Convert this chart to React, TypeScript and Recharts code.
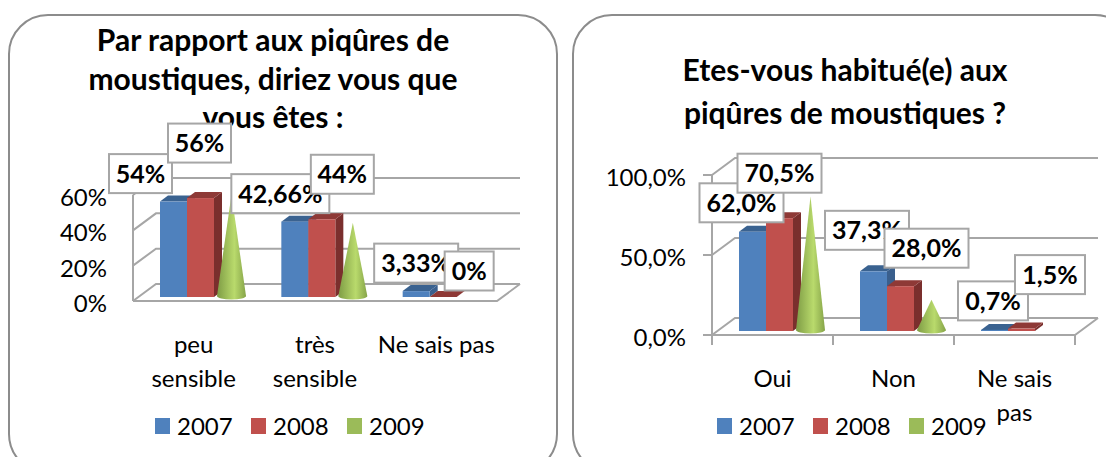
import React from "react";
import { Bar, BarChart, CartesianGrid, LabelList, Legend, XAxis, YAxis } from "recharts";

const FONT = "Lato, 'Open Sans', sans-serif";

// left chart
const sensCategories = ["peu\nsensible", "très\nsensible", "Ne sais pas"];
const sens2007 = [54, 42.66, 3.33];
const sens2008 = [56, 44, 0];
const sens2009 = [58, 42, 0];
const sensTicks = [0, 20, 40, 60];

// right chart
const habitCategories = ["Oui", "Non", "Ne sais\npas"];
const habit2007 = [62, 37.3, 0.7];
const habit2008 = [70.5, 28, 1.5];
const habit2009 = [84, 19.5, 0];
const habitTicks = [0, 50, 100];

const COLORS = {
  blue: { front: "#4F81BD", side: "#3A5F8D", top: "#3A6290" },
  red: { front: "#C0504D", side: "#7A2F2D", top: "#8E3936" },
};

// hand placed label boxes, same order as the bars
const sensOffsets2007 = [[-33, -28], [-14.5, -28], [0, -28]];
const sensOffsets2008 = [[-1, -55], [20.5, -45], [26, -26]];
const habitOffsets2007 = [[-11, -29], [-6.5, -41], [-1.5, -29]];
const habitOffsets2008 = [[0, -45], [26, -38], [28.5, -54]];

const YAXIS_W = 32;

const box3d = (tone: { front: string; side: string; top: string }) => (props: any) => {
  const { x, y, width, height } = props;
  const dx = 8;
  const dy = 6;
  return (
    <g>
      <path d={`M${x + width},${y} l${dx},${-dy} v${height} l${-dx},${dy} Z`} fill={tone.side} />
      <path d={`M${x},${y} l${dx},${-dy} h${width} l${-dx},${dy} Z`} fill={tone.top} />
      <rect x={x} y={y} width={width} height={height} fill={tone.front} />
    </g>
  );
};

const Cone = (props: any) => {
  const { x, y, width, height } = props;
  if (!height) return null;
  const left = x + 3;
  const w = width + 2;
  const cx = left + w / 2;
  const base = y + height;
  return (
    <g>
      <path
        d={`M${cx},${y} L${left + w},${base - 1} A${w / 2},3.5 0 0 1 ${left},${base - 1} Z`}
        fill="url(#coneFill)"
      />
    </g>
  );
};

const labelBox = (offsets: number[][], fmt: (v: number) => string) => (props: any) => {
  const { x, y, width, value, index } = props;
  const text = fmt(value);
  const digits = text.replace(/[^0-9]/g, "").length;
  const commas = text.includes(",") ? 1 : 0;
  const w = 35 + digits * 14 + commas * 7;
  const h = 39;
  const cx = x + width / 2 + offsets[index][0];
  const cy = y + offsets[index][1];
  return (
    <g>
      <rect x={cx - w / 2} y={cy - h / 2} width={w} height={h} fill="#fff" stroke="#A6A6A6" strokeWidth={2} />
      <text x={cx} y={cy + 9} textAnchor="middle" fontFamily={FONT} fontWeight={700} fontSize={25} fill="#000">
        {text}
      </text>
    </g>
  );
};

const frameLine = (showTicks: boolean, plotBottom: number) => (props: any) => {
  const { x1, x2, y1, key } = props;
  const fx = x1 - 7;
  const fy = y1 + 4;
  const stroke = "#A6A6A6";
  const isFloor = Math.abs(y1 - plotBottom) < 1;
  return (
    <g key={key} fill="none" stroke={stroke} strokeWidth={2}>
      <path d={`M${fx},${fy} L${x1 + 16},${y1 - 13} H${x2 + 16}`} />
      <path d={`M${fx},${fy} V${plotBottom + 4}`} />
      {showTicks && <path d={`M${fx - 9},${fy} H${fx}`} />}
      {isFloor && <path d={`M${fx},${fy} H${x2 - 7} L${x2 + 16},${y1 - 13}`} />}
    </g>
  );
};

const AxisLabel = (fmt: (v: number) => string) => (props: any) => {
  const { x, y, payload } = props;
  return (
    <text x={x - 25} y={y + 15} textAnchor="end" fontFamily={FONT} fontSize={24} fill="#000">
      {fmt(payload.value)}
    </text>
  );
};

const CategoryLabel = (showTicks: boolean, step: number) => (props: any) => {
  const { x, y, payload } = props;
  const lines = String(payload.value).split("\n");
  const cx = x - 7;
  return (
    <g>
      {showTicks && (
        <path
          d={`M${cx - step / 2},${y - 4} v10 M${cx + step / 2},${y - 4} v10`}
          stroke="#A6A6A6"
          strokeWidth={2}
          fill="none"
        />
      )}
      {lines.map((line, i) => (
        <text key={i} x={cx} y={y + 48 + i * 34} textAnchor="middle" fontFamily={FONT} fontSize={24} fill="#000">
          {line}
        </text>
      ))}
    </g>
  );
};

const LegendRow = ({ payload }: any) => (
  <div style={{ display: "flex", fontFamily: FONT, fontSize: 24, color: "#000", lineHeight: "30px" }}>
    {payload.map((item: any) => (
      <div key={item.value} style={{ display: "flex", alignItems: "center", width: 96 }}>
        <span style={{ width: 15, height: 16, background: item.color, marginRight: 7 }} />
        {item.value}
      </div>
    ))}
  </div>
);

type ChartProps = {
  left: number;
  width: number;
  panelWidth: number;
  title: string[];
  titleTop: number;
  titleLine: number;
  titleShift: number;
  categories: string[];
  y2007: number[];
  y2008: number[];
  y2009: number[];
  ticks: number[];
  tickFmt: (v: number) => string;
  labelFmt: (v: number) => string;
  off2007: number[][];
  off2008: number[][];
  margin: { top: number; right: number; left: number; bottom: number };
  showTicks: boolean;
  legendLeft: number;
  legendTop: number;
};

const Panel = (p: ChartProps) => {
  const data = p.categories.map((name, i) => ({
    name,
    y2007: p.y2007[i],
    y2008: p.y2008[i],
    y2009: p.y2009[i],
  }));
  const chartH = 444;
  const plotBottom = chartH - p.margin.bottom - 60;
  const step = (p.width - p.margin.left - p.margin.right - YAXIS_W) / 3;
  return (
    <div style={{ position: "absolute", left: p.left, top: 13, width: p.width, height: chartH }}>
      <div
        style={{
          position: "absolute",
          left: 0,
          top: 1,
          width: p.panelWidth,
          height: 460,
          boxSizing: "border-box",
          border: "2px solid #8C8C8C",
          borderRadius: 40,
        }}
      />
      <div
        style={{
          position: "absolute",
          left: p.titleShift,
          width: p.width,
          top: p.titleTop,
          textAlign: "center",
          fontFamily: FONT,
          fontWeight: 700,
          fontSize: 30,
          lineHeight: `${p.titleLine}px`,
          color: "#000",
        }}
      >
        {p.title.map((t) => (
          <div key={t}>{t}</div>
        ))}
      </div>
      <div style={{ position: "absolute", left: 0, top: 0 }}>
        <BarChart width={p.width} height={chartH} data={data} margin={p.margin} barSize={27} barGap={0}>
          <defs>
            <linearGradient id="coneFill" x1="0" y1="0" x2="1" y2="0">
              <stop offset="0%" stopColor="#7E9C45" />
              <stop offset="60%" stopColor="#B9DA6C" />
              <stop offset="100%" stopColor="#86A449" />
            </linearGradient>
          </defs>
          <CartesianGrid vertical={false} horizontal={frameLine(p.showTicks, plotBottom)} />
          <XAxis
            dataKey="name"
            height={60}
            axisLine={false}
            tickLine={false}
            interval={0}
            tick={CategoryLabel(p.showTicks, step)}
          />
          <YAxis
            width={YAXIS_W}
            domain={[p.ticks[0], p.ticks[p.ticks.length - 1]]}
            ticks={p.ticks}
            axisLine={false}
            tickLine={false}
            tick={AxisLabel(p.tickFmt)}
          />
          <Legend
            layout="horizontal"
            verticalAlign="middle"
            align="center"
            wrapperStyle={{ left: p.legendLeft, top: p.legendTop, width: 320 }}
            content={LegendRow}
          />
          <Bar dataKey="y2007" name="2007" fill={COLORS.blue.front} shape={box3d(COLORS.blue)} isAnimationActive={false}>
            <LabelList dataKey="y2007" content={labelBox(p.off2007, p.labelFmt)} />
          </Bar>
          <Bar dataKey="y2008" name="2008" fill={COLORS.red.front} shape={box3d(COLORS.red)} isAnimationActive={false}>
            <LabelList dataKey="y2008" content={labelBox(p.off2008, p.labelFmt)} />
          </Bar>
          <Bar dataKey="y2009" name="2009" fill="#9BBB59" shape={Cone} isAnimationActive={false} />
        </BarChart>
      </div>
    </div>
  );
};

const comma = (v: number) => String(v).replace(".", ",") + "%";
const comma1 = (v: number) => v.toFixed(1).replace(".", ",") + "%";

export default function App() {
  return (
    <div style={{ position: "absolute", left: 0, top: 0, width: 1106, height: 457, overflow: "hidden", background: "#fff" }}>
      <Panel
        left={8}
        width={550}
        panelWidth={550}
        title={["Par rapport aux piqûres de", "moustiques, diriez vous que", "vous êtes :"]}
        titleTop={7}
        titleLine={38.5}
        titleShift={-10}
        categories={sensCategories}
        y2007={sens2007}
        y2008={sens2008}
        y2009={sens2009}
        ticks={sensTicks}
        tickFmt={(v) => v + "%"}
        labelFmt={comma}
        off2007={sensOffsets2007}
        off2008={sensOffsets2008}
        margin={{ top: 178, right: 54, left: 100, bottom: 100 }}
        showTicks={false}
        legendLeft={147}
        legendTop={398}
      />
      <Panel
        left={572}
        width={534}
        panelWidth={563}
        title={["Etes-vous habitué(e) aux", "piqûres de moustiques ?"]}
        titleTop={35}
        titleLine={43}
        titleShift={6}
        categories={habitCategories}
        y2007={habit2007}
        y2008={habit2008}
        y2009={habit2009}
        ticks={habitTicks}
        tickFmt={comma1}
        labelFmt={comma1}
        off2007={habitOffsets2007}
        off2008={habitOffsets2008}
        margin={{ top: 158, right: 24, left: 115, bottom: 66 }}
        showTicks={true}
        legendLeft={145}
        legendTop={398}
      />
    </div>
  );
}
